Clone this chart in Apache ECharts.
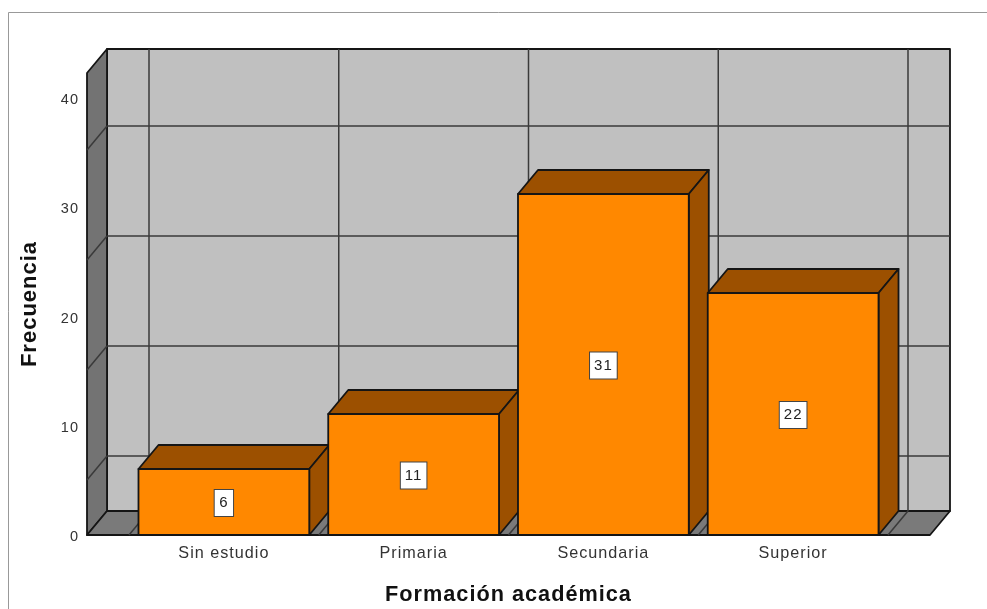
<!DOCTYPE html>
<html><head><meta charset="utf-8">
<style>html,body{margin:0;padding:0;background:#fff}#c{width:987px;height:609px}</style>
<script src="https://cdn.jsdelivr.net/npm/echarts@6/dist/echarts.min.js"></script>
</head><body><div id="c"></div>
<script>
const categories = ['Sin estudio','Primaria','Secundaria','Superior'];
const frecuencia = [6,11,31,22];
const wallLines = [5,15,25,35];
const yMax = 42;
const DX = 20, DY = -24, PAD = 42, FONT = '"Liberation Sans", Arial, sans-serif';
const ink = '#151515', gridInk = '#3a3a3a';
function poly(pts, fill, stroke, lw){
  return {type:'polygon', shape:{points:pts}, style:{fill:fill, stroke:stroke, lineWidth:lw, lineJoin:'round'}};
}
function seg(a,b,c,lw){
  return {type:'line', shape:{x1:a[0],y1:a[1],x2:b[0],y2:b[1]}, style:{stroke:c, lineWidth:lw, fill:null}};
}
function renderWalls(params, api){
  const band = api.size([1,0])[0];
  const first = api.coord([0,0])[0] - band/2;
  const edges = categories.map((c,i)=>first + band*i).concat([first + band*categories.length]);
  const L = first - PAD, R = edges[edges.length-1] + PAD;
  const B = api.coord([0,0])[1], T = api.coord([0,yMax])[1];
  const ch = [];
  ch.push(poly([[L+DX,T+DY],[R+DX,T+DY],[R+DX,B+DY],[L+DX,B+DY]],'#c0c0c0',ink,1.8));
  ch.push(poly([[L,T],[L+DX,T+DY],[L+DX,B+DY],[L,B]],'#737373',ink,1.8));
  ch.push(poly([[L,B],[L+DX,B+DY],[R+DX,B+DY],[R,B]],'#7a7a7a',ink,1.8));
  wallLines.forEach(v=>{
    const y = api.coord([0,v])[1];
    ch.push(seg([L,y],[L+DX,y+DY],gridInk,1.5));
    ch.push(seg([L+DX,y+DY],[R+DX,y+DY],gridInk,1.5));
  });
  edges.forEach(x=>{
    ch.push(seg([x+DX,T+DY],[x+DX,B+DY],gridInk,1.5));
    ch.push(seg([x+DX,B+DY],[x,B],gridInk,1.5));
  });
  return {type:'group', children:ch};
}
function renderBar(params, api){
  const c = api.coord([api.value(0), api.value(1)]);
  const b = api.coord([api.value(0), 0])[1];
  const w = api.size([1,0])[0]*0.9;
  const l = c[0]-w/2, r = c[0]+w/2, t = c[1];
  const val = api.value(1);
  return {type:'group', children:[
    poly([[l,t],[l+DX,t+DY],[r+DX,t+DY],[r,t]],'#9c5000',ink,1.8),
    poly([[r,t],[r+DX,t+DY],[r+DX,b+DY],[r,b]],'#9c5000',ink,1.8),
    poly([[l,t],[r,t],[r,b],[l,b]],'#ff8800',ink,1.8),
    {type:'text', x:c[0], y:(t+b)/2+1, style:{text:String(val), fill:'#222', font:'15px '+FONT,
      align:'center', verticalAlign:'middle', backgroundColor:'#fff', borderColor:'#444', borderWidth:1, padding:[6,5,5,5]}}
  ]};
}
const option = {
  animation:false,
  backgroundColor:'#fff',
  graphic:[{type:'polyline', silent:true, z:-1, shape:{points:[[8.5,620],[8.5,12.5],[1000,12.5]]}, style:{stroke:'#999',lineWidth:1,fill:null}}],
  grid:[
    {left:129, width:759, top:73, height:462, outerBoundsMode:'none'},
    {left:129, width:759, top:75, height:462, outerBoundsMode:'none'}
  ],
  xAxis:[
    {type:'category', data:categories, axisLine:{show:false}, axisTick:{show:false}, splitLine:{show:false},
     axisLabel:{margin:11, color:'#333', fontFamily:FONT, fontSize:16.2},
     name:'Formación académica', nameLocation:'middle', nameGap:49,
     nameTextStyle:{fontFamily:FONT, fontSize:21.7, fontWeight:'bold', color:'#111'}},
    {type:'category', gridIndex:1, data:categories, show:false}
  ],
  yAxis:[
    {type:'value', min:0, max:yMax, axisLine:{show:false}, axisTick:{show:false}, splitLine:{show:false},
     axisLabel:{show:false},
     name:'Frecuencia', nameLocation:'middle', nameGap:88, nameRotate:90,
     nameTextStyle:{fontFamily:FONT, fontSize:22, fontWeight:'bold', color:'#111'}},
    {type:'value', gridIndex:1, position:'left', min:0, max:42.3, interval:10, axisLine:{show:false}, axisTick:{show:false}, splitLine:{show:false},
     axisLabel:{margin:50, color:'#333', fontFamily:FONT, fontSize:14.5, showMaxLabel:false}}
  ],
  series:[
    {type:'custom', name:'walls', data:[[0,0]], renderItem:renderWalls, clip:false, z:1, silent:true},
    {type:'custom', name:'Frecuencia', data:frecuencia.map((v,i)=>[i,v]), encode:{x:0,y:1}, renderItem:renderBar, clip:false, z:2}
  ]
};
const chart = echarts.init(document.getElementById('c'), null, {renderer:'canvas'});
chart.setOption(option);
// The reference text is widely tracked; apply it on the drawing context, then repaint.
const ctx = chart.getDom().querySelector('canvas').getContext('2d');
if ('letterSpacing' in ctx) ctx.letterSpacing = '1px';
chart.setOption(option, true);
</script></body></html>
